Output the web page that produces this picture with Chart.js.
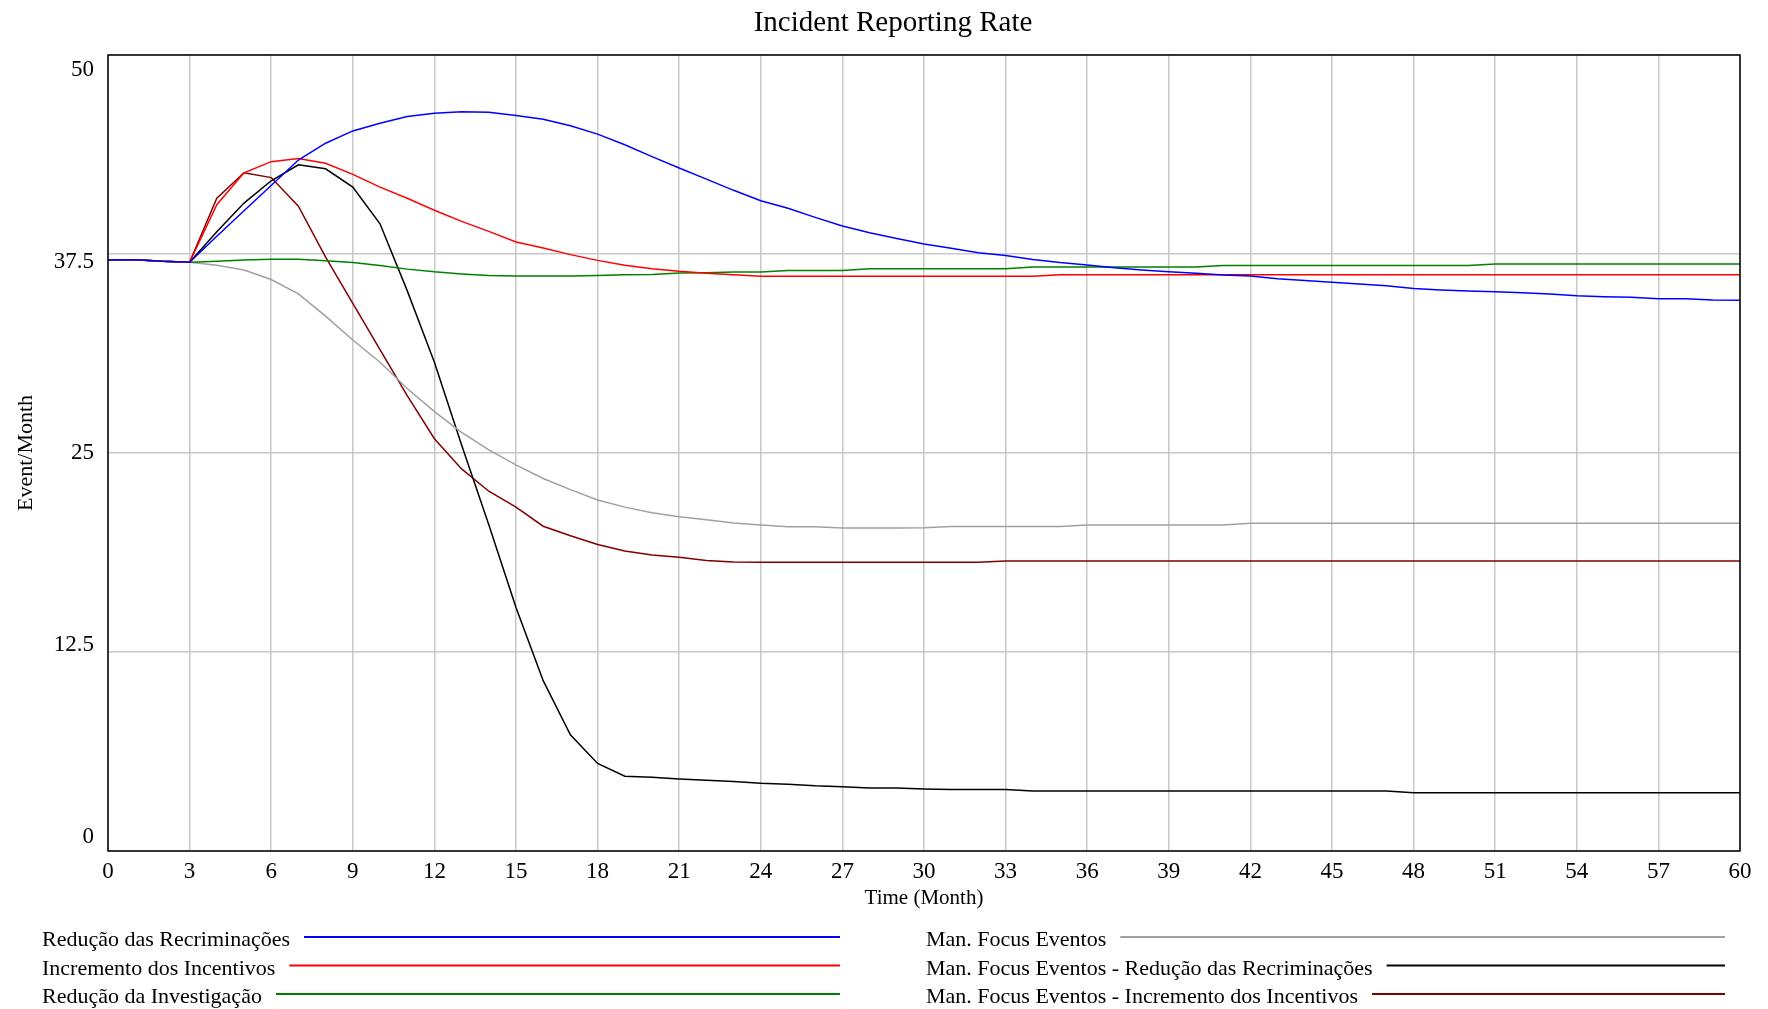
<!DOCTYPE html>
<html>
<head>
<meta charset="utf-8">
<script src="https://cdn.jsdelivr.net/npm/chart.js@4.4.1/dist/chart.umd.min.js"></script>
<style>
html,body{margin:0;padding:0;background:#ffffff;}
#wrap{width:1768px;height:1009px;position:relative;}
</style>
</head>
<body>
<div id="wrap"><canvas id="c"></canvas></div>
<script>
// ---------- DATA ----------
const chartTitle = "Incident Reporting Rate";
const xTitle = "Time (Month)";
const yTitle = "Event/Month";
const xTickValues = [0,3,6,9,12,15,18,21,24,27,30,33,36,39,42,45,48,51,54,57,60];
const yTickValues = [0,12.5,25,37.5,50];

const months = [0,1,2,3,4,5,6,7,8,9,10,11,12,13,14,15,16,17,18,19,20,21,22,23,24,25,26,27,28,29,30,
  31,32,33,34,35,36,37,38,39,40,41,42,43,44,45,46,47,48,49,50,51,52,53,54,55,56,57,58,59,60];

const reducaoRecriminacoes = [37.14,37.14,37.04,36.98,38.61,40.22,41.8,43.4,44.46,45.23,45.71,
  46.13,46.34,46.43,46.4,46.2,45.97,45.55,45.03,44.36,43.62,42.9,42.2,41.5,40.85,40.37,39.8,39.26,
  38.84,38.48,38.13,37.86,37.58,37.4,37.16,36.96,36.81,36.64,36.5,36.39,36.29,36.18,36.12,35.95,
  35.83,35.72,35.62,35.51,35.34,35.24,35.17,35.13,35.07,34.99,34.88,34.82,34.78,34.69,34.69,34.61,34.59];

const incrementoIncentivos = [37.14,37.14,37.04,36.98,40.6,42.6,43.3,43.5,43.2,42.5,41.7,
  41.0,40.25,39.55,38.92,38.25,37.88,37.46,37.1,36.8,36.58,36.41,36.29,36.2,36.1,36.1,36.1,36.1,
  36.1,36.1,36.1,36.1,36.1,36.1,36.1,36.2,36.2,36.2,36.2,36.2,36.2,36.2,36.2,36.2,
  36.2,36.2,36.2,36.2,36.2,36.2,36.2,36.2,36.2,36.2,36.2,36.2,36.2,36.2,36.2,36.2,36.2];

const reducaoInvestigacao = [37.14,37.14,37.04,36.98,37.05,37.12,37.17,37.17,37.08,36.96,36.78,
  36.55,36.38,36.25,36.15,36.12,36.12,36.12,36.15,36.2,36.22,36.3,36.33,36.37,36.37,36.47,36.47,36.47,
  36.58,36.58,36.58,36.58,36.58,36.58,36.68,36.68,36.68,36.68,36.68,36.68,36.68,36.77,36.77,36.77,
  36.77,36.77,36.77,36.77,36.77,36.77,36.77,36.87,36.87,36.87,36.87,36.87,36.87,36.87,36.87,36.87,36.87];

const manFocusEventos = [37.14,37.14,37.04,36.98,36.8,36.5,35.9,35.0,33.6,32.1,30.7,
  29.05,27.6,26.3,25.2,24.25,23.4,22.7,22.05,21.6,21.25,21.0,20.8,20.6,20.48,20.37,20.37,20.29,
  20.29,20.29,20.3,20.39,20.39,20.39,20.39,20.39,20.48,20.48,20.48,20.48,20.48,20.48,20.58,20.58,
  20.58,20.58,20.58,20.58,20.58,20.58,20.58,20.58,20.58,20.58,20.58,20.58,20.58,20.58,20.58,20.58,20.58];

const manFocusRecriminacoes = [37.14,37.14,37.04,36.98,38.9,40.7,42.1,43.1,42.85,41.7,39.4,
  35.2,30.7,25.5,20.5,15.3,10.7,7.3,5.5,4.7,4.63,4.52,4.44,4.36,4.25,4.2,4.1,4.04,
  3.96,3.96,3.9,3.87,3.87,3.87,3.77,3.77,3.77,3.77,3.77,3.77,3.77,3.77,3.77,3.77,
  3.77,3.77,3.77,3.77,3.66,3.66,3.66,3.66,3.66,3.66,3.66,3.66,3.66,3.66,3.66,3.66,3.66];

const manFocusIncentivos = [37.14,37.14,37.04,36.98,41.0,42.6,42.3,40.5,37.3,34.4,31.5,
  28.6,25.9,24.0,22.6,21.6,20.4,19.8,19.25,18.85,18.6,18.45,18.25,18.15,18.13,18.13,18.13,18.13,
  18.13,18.13,18.13,18.13,18.13,18.22,18.22,18.22,18.22,18.22,18.22,18.22,18.22,18.22,18.22,18.22,
  18.22,18.22,18.22,18.22,18.22,18.22,18.22,18.22,18.22,18.22,18.22,18.22,18.22,18.22,18.22,18.22,18.22];

const seriesLabels = [
  "Redução das Recriminações",
  "Incremento dos Incentivos",
  "Redução da Investigação",
  "Man. Focus Eventos",
  "Man. Focus Eventos - Redução das Recriminações",
  "Man. Focus Eventos - Incremento dos Incentivos"
];
const seriesValues = [reducaoRecriminacoes, incrementoIncentivos, reducaoInvestigacao,
  manFocusEventos, manFocusRecriminacoes, manFocusIncentivos];
const seriesColors = ["#0000ff","#ff0000","#008000","#a0a0a0","#000000","#800000"];

// ---------- CHART ----------
const FONT = '"Liberation Serif", "Times New Roman", serif';

const frameAndLegend = {
  id: 'frameAndLegend',
  afterDatasetsDraw(chart) {
    const {ctx, chartArea: a} = chart;
    ctx.save();
    ctx.strokeStyle = '#000';
    ctx.lineWidth = 1.5;
    ctx.strokeRect(a.left, a.top, a.right - a.left, a.bottom - a.top);
    ctx.restore();
  },
  afterDraw(chart) {
    const ctx = chart.ctx;
    const cols = [{x: 42, end: 840}, {x: 926, end: 1725}];
    const rows = [937, 965.5, 994];
    ctx.save();
    ctx.font = '22px ' + FONT;
    ctx.textBaseline = 'alphabetic';
    chart.data.datasets.forEach((ds, i) => {
      const col = cols[Math.floor(i / 3)];
      const y = rows[i % 3];
      ctx.fillStyle = '#000';
      ctx.fillText(ds.label, col.x, y + 9);
      const w = ctx.measureText(ds.label).width;
      ctx.strokeStyle = ds.borderColor;
      ctx.lineWidth = 2;
      ctx.beginPath();
      ctx.moveTo(col.x + w + 14, y);
      ctx.lineTo(col.end, y);
      ctx.stroke();
    });
    ctx.restore();
  }
};

new Chart(document.getElementById('c'), {
  type: 'line',
  data: {
    datasets: seriesLabels.map((label, i) => ({
      label: label,
      xAxisID: 'x',
      yAxisID: 'y',
      data: months.map((t, j) => ({x: t, y: seriesValues[i][j]})),
      borderColor: seriesColors[i],
      backgroundColor: seriesColors[i],
      borderWidth: 1.5,
      pointRadius: 0,
      pointHoverRadius: 0,
      tension: 0,
      fill: false
    }))
  },
  options: {
    responsive: true,
    maintainAspectRatio: false,
    animation: false,
    events: [],
    layout: {padding: {left: 46, right: 28, top: 0, bottom: 98}},
    plugins: {
      legend: {display: false},
      tooltip: {enabled: false},
      title: {
        display: true,
        text: chartTitle,
        color: '#000',
        font: {family: FONT, size: 29, weight: 'normal', lineHeight: 1.2},
        padding: {top: 6, bottom: 14.2}
      }
    },
    scales: {
      x: {
        type: 'linear',
        min: 0, max: 60,
        afterBuildTicks: (s) => { s.ticks = xTickValues.map(v => ({value: v})); },
        afterFit: (s) => { s.height = 60; },
        ticks: {color: '#000', padding: 7, font: {family: FONT, size: 23}, maxRotation: 0, autoSkip: false},
        grid: {color: '#c8c8c8', lineWidth: 1.5, drawTicks: false},
        border: {display: false},
        title: {display: true, text: xTitle, color: '#000', font: {family: FONT, size: 21}, padding: {top: 0, bottom: 0}}
      },
      // value axis: carries the data and the horizontal grid lines
      y: {
        type: 'linear',
        position: 'left',
        min: 0, max: 50,
        afterBuildTicks: (s) => { s.ticks = yTickValues.map(v => ({value: v})); },
        afterFit: (s) => { s.width = 0; },
        ticks: {display: false},
        grid: {color: '#c8c8c8', lineWidth: 1.5, drawTicks: false},
        border: {display: false}
      },
      // label axis: Vensim-style tick labels pulled slightly inside the frame
      yLabels: {
        type: 'linear',
        position: 'left',
        min: -0.933, max: 50.978,
        afterBuildTicks: (s) => { s.ticks = yTickValues.map(v => ({value: v})); },
        afterFit: (s) => { s.width = 62; },
        ticks: {color: '#000', padding: 14, font: {family: FONT, size: 23}},
        grid: {display: false, drawTicks: false},
        border: {display: false},
        title: {display: true, text: yTitle, color: '#000', font: {family: FONT, size: 22}, padding: {top: -33.2, bottom: 0}}
      }
    }
  },
  plugins: [frameAndLegend]
});
</script>
</body>
</html>
